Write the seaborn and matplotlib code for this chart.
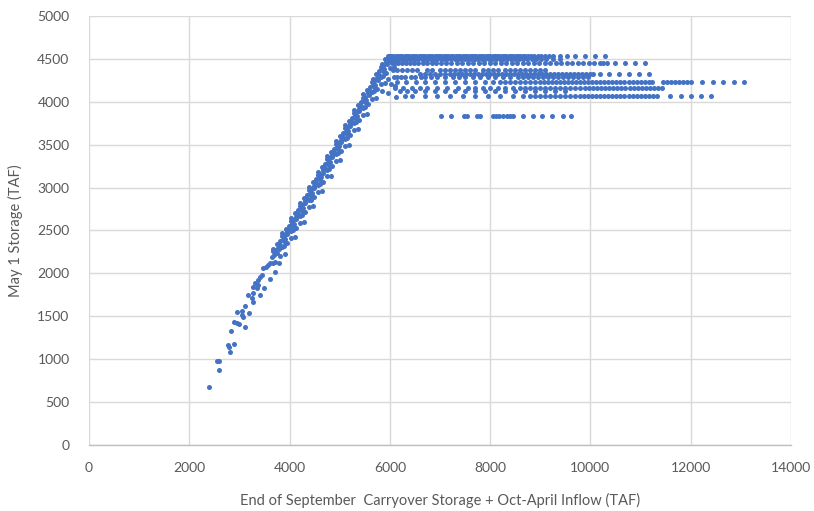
import matplotlib
matplotlib.use("Agg")
import matplotlib.pyplot as plt
import numpy as np
import pandas as pd
import seaborn as sns

# ---- data (TAF) ----
# sparse low-storage years
low_x = [2400, 2600, 2550, 2590, 2810, 2765, 2800, 2900, 2840, 2900, 2945, 2990,
         3110, 3050, 3080, 2960, 3050, 3110, 3200, 3180, 3265, 3280, 3260, 3410,
         3265, 3345, 3370, 3310, 3495, 3410, 3445, 3375, 3610, 3465, 3530, 3575,
         3610, 3665, 3710, 3710, 3790, 3650, 3700, 3750, 3800, 3910,
         5960, 6030, 6100, 5840, 5970, 6130]
low_y = [680, 870, 975, 975, 1080, 1165, 1145, 1180, 1325, 1430, 1420, 1410,
         1375, 1510, 1495, 1550, 1565, 1620, 1535, 1745, 1770, 1670, 1710, 1745,
         1845, 1825, 1865, 1885, 1825, 1960, 1980, 1925, 1930, 2060, 2080, 2100,
         2120, 2125, 2135, 2020, 2120, 2190, 2210, 2240, 2200, 2225,
         4270, 4210, 4180, 4120, 4100, 4060]

# rising limb, first set
rise1_x = [3680, 3780, 3760, 3880, 3745, 3900, 3870, 4030, 3850, 3955, 3940, 4060,
           3920, 4075, 4050, 4210, 4030, 4135, 4120, 4240, 4100, 4255, 4230, 4390,
           4210, 4315, 4300, 4420, 4280, 4435, 4410, 4570, 4390, 4495, 4480, 4600,
           4460, 4615, 4590, 4750, 4570, 4675, 4660, 4780, 4640, 4795, 4770, 4930,
           4750, 4855, 4840, 4960, 4820, 4975, 4950, 5110, 4930, 5035, 5020, 5140,
           5000, 5155, 5130, 5290, 5110, 5215, 5200, 5320, 5180, 5335, 5310, 5470,
           5290, 5395, 5380, 5500, 5360, 5515, 5490, 5650, 5470, 5575, 5560, 5680,
           5540, 5695, 5670, 5830, 5650, 5755, 5740, 5860, 5720, 5875, 5850, 6010,
           5830, 5935, 5920, 6040, 5900, 6050]
rise1_y = [2260, 2280, 2300, 2320, 2345, 2370, 2390, 2410, 2430, 2455, 2480, 2500,
           2520, 2545, 2570, 2590, 2610, 2635, 2660, 2680, 2700, 2725, 2750, 2770,
           2790, 2815, 2840, 2860, 2880, 2905, 2930, 2950, 2970, 2995, 3020, 3040,
           3060, 3085, 3110, 3130, 3150, 3175, 3200, 3220, 3240, 3265, 3290, 3310,
           3330, 3355, 3380, 3400, 3420, 3445, 3470, 3490, 3510, 3535, 3560, 3580,
           3600, 3625, 3650, 3670, 3690, 3715, 3740, 3760, 3780, 3805, 3830, 3850,
           3870, 3895, 3920, 3940, 3960, 3985, 4010, 4030, 4050, 4075, 4100, 4120,
           4140, 4165, 4190, 4210, 4230, 4255, 4280, 4300, 4320, 4345, 4370, 4390,
           4410, 4435, 4460, 4480, 4500, 4520]

# rising limb, second set
rise2_x = [3720, 3680, 3850, 3800, 3955, 3810, 3910, 4100, 3890, 3855, 4030, 3980,
           4130, 3985, 4090, 4280, 4070, 4035, 4210, 4160, 4310, 4165, 4270, 4460,
           4250, 4215, 4390, 4340, 4490, 4345, 4450, 4640, 4430, 4395, 4570, 4520,
           4670, 4525, 4630, 4820, 4610, 4575, 4750, 4700, 4850, 4705, 4810, 5000,
           4790, 4755, 4930, 4880, 5030, 4885, 4990, 5180, 4970, 4935, 5110, 5060,
           5210, 5065, 5170, 5360, 5150, 5115, 5290, 5240, 5390, 5245, 5350, 5540,
           5330, 5295, 5470, 5420, 5570, 5425, 5530, 5720, 5510, 5475, 5650, 5600,
           5750, 5605, 5710, 5900, 5690, 5655, 5830, 5780, 5930, 5785, 5890, 6080,
           5870, 5835, 6010, 5960, 6110, 5960]
rise2_y = [2270, 2290, 2310, 2330, 2355, 2380, 2400, 2420, 2440, 2465, 2490, 2510,
           2530, 2555, 2580, 2600, 2620, 2645, 2670, 2690, 2710, 2735, 2760, 2780,
           2800, 2825, 2850, 2870, 2890, 2915, 2940, 2960, 2980, 3005, 3030, 3050,
           3070, 3095, 3120, 3140, 3160, 3185, 3210, 3230, 3250, 3275, 3300, 3320,
           3340, 3365, 3390, 3410, 3430, 3455, 3480, 3500, 3520, 3545, 3570, 3590,
           3610, 3635, 3660, 3680, 3700, 3725, 3750, 3770, 3790, 3815, 3840, 3860,
           3880, 3905, 3930, 3950, 3970, 3995, 4020, 4040, 4060, 4085, 4110, 4130,
           4150, 4175, 4200, 4220, 4240, 4265, 4290, 4310, 4330, 4355, 4380, 4400,
           4420, 4445, 4470, 4490, 4510, 4530]

# flat-top years: May 1 storage level and the matching x values
level_4530 = [5980, 6030, 6070, 6120, 6160, 6210, 6250, 6300, 6350, 6390, 6440, 6480,
              6530, 6580, 6620, 6670, 6710, 6760, 6800, 6850, 6900, 6940, 6990, 7030,
              7080, 7130, 7170, 7220, 7260, 7310, 7360, 7400, 7450, 7490, 7540, 7590,
              7630, 7680, 7720, 7770, 7820, 7860, 7910, 7950, 8000, 8050, 8090, 8140,
              8180, 8230, 8280, 8320, 8370, 8410, 8460, 8510, 8550, 8600, 8650, 8700,
              8760, 8820, 8880, 8950, 9020, 9090, 9170, 9250, 9390, 9530, 9690, 9890,
              10090, 10290]
level_4495 = [6010, 6060, 6110, 6170, 6230, 6280, 6340, 6400, 6460, 6510, 6570, 6640,
              6700, 6760, 6830, 6890, 6950, 7020, 7090, 7150, 7220, 7290, 7350, 7420,
              7490, 7560, 7620, 7690, 7760, 7830, 7900, 7970, 8040, 8110, 8190, 8260,
              8330, 8410, 8490, 8570, 8650, 8740, 8830, 8920, 9010, 9120, 9250, 9400]
level_4455 = [6040, 6100, 6170, 6240, 6320, 6400, 6480, 6570, 6660, 6750, 6840, 6930,
              7030, 7130, 7230, 7330, 7440, 7550, 7660, 7770, 7880, 7990, 8100, 8210,
              8320, 8430, 8540, 8650, 8760, 8870, 8980, 9090, 9200, 9310, 9420, 9530,
              9640, 9750, 9860, 9970, 10080, 10190, 10250, 10330, 10490, 10690, 10890,
              11090]
level_4370 = [6060, 6140, 6240, 6340, 6440, 6540, 6740, 6840, 7000, 7100, 7200, 7300,
              7400, 7500, 7600, 7700, 7850, 7950, 8050, 8150, 8300, 8400, 8500, 8600,
              8700, 8800, 8900, 9000, 9100]
level_4325 = [6600, 6700, 6800, 6900, 7000, 7100, 7200, 7280, 7360, 7440, 7520, 7600,
              7680, 7760, 7840, 7920, 8000, 8080, 8160, 8240, 8320, 8400, 8480, 8560,
              8640, 8720, 8800, 8880, 8960, 9040, 9120, 9200, 9280, 9360, 9440, 9520,
              9600, 9680, 9760, 9840, 9920, 10000, 10060, 10190, 10370, 10570, 10770,
              10970, 11170]
level_4285 = [6080, 6150, 6230, 6300, 6420, 6500, 6620, 6700, 6820, 6950, 7100, 7250,
              7380, 7500, 7650, 7800, 7950, 8100, 8250, 8400, 8550, 8650, 8750, 8850,
              8950, 9050, 9150, 9250, 9350, 9450, 9550, 9650, 9750, 9850, 9950]
level_4230 = [6150, 6330, 6520, 6700, 6900, 7100, 7300, 7500, 7700, 7900, 8050, 8200,
              8300, 8400, 8500, 8600, 8700, 8800, 8900, 9000, 9080, 9160, 9240, 9320,
              9400, 9480, 9560, 9640, 9720, 9800, 9880, 9960, 10040, 10120, 10200,
              10280, 10360, 10440, 10520, 10600, 10680, 10760, 10840, 10920, 11000,
              11080, 11160, 11220, 11450, 11520, 11600, 11680, 11760, 11840, 11920,
              12010, 12220, 12450, 12650, 12860, 13060]
level_4165 = [6110, 6260, 6450, 6600, 6750, 6950, 7150, 7350, 7550, 7700, 7850, 8000,
              8150, 8300, 8450, 8600, 8700, 8800, 8900, 9000, 9100, 9200, 9300, 9400,
              9500, 9600, 9700, 9800, 9900, 9980, 10060, 10140, 10220, 10300, 10380,
              10460, 10540, 10620, 10700, 10780, 10860, 10940, 11020, 11100, 11180,
              11260, 11340, 11420]
level_4120 = [6200, 6350, 6500, 6700, 6900, 7100, 7300, 7500, 7700, 7900, 8100, 8300,
              8500, 8700, 8900, 9100, 9300, 9500]
level_4070 = [6300, 6450, 6700, 6950, 7200, 7450, 7700, 7950, 8200, 8450, 8650, 8800,
              8900, 9000, 9100, 9200, 9300, 9400, 9500, 9600, 9700, 9800, 9880, 9960,
              10040, 10120, 10200, 10280, 10360, 10440, 10520, 10600, 10680, 10760,
              10840, 10920, 11000, 11080, 11160, 11240, 11320, 11580, 11800, 12000,
              12200, 12400]
level_3830 = [7020, 7230, 7470, 7540, 7730, 7800, 8050, 8120, 8180, 8250, 8330, 8400,
              8460, 8660, 8860, 9030, 9230, 9450, 9620]

levels = {4530: level_4530, 4495: level_4495, 4455: level_4455, 4370: level_4370,
          4325: level_4325, 4285: level_4285, 4230: level_4230, 4165: level_4165,
          4120: level_4120, 4070: level_4070, 3830: level_3830}

x_ticks = [0, 2000, 4000, 6000, 8000, 10000, 12000, 14000]
y_ticks = [0, 500, 1000, 1500, 2000, 2500, 3000, 3500, 4000, 4500, 5000]
x_label = "End of September  Carryover Storage + Oct-April Inflow (TAF)"
y_label = "May 1 Storage (TAF)"

# ---- assemble a long table ----
xs = low_x + rise1_x + rise2_x
ys = low_y + rise1_y + rise2_y
for level, vals in levels.items():
    xs += vals
    ys += [level] * len(vals)
df = pd.DataFrame({"inflow": xs, "storage": ys})

# ---- plot ----
sns.set_theme(style="white")
plt.rcParams["font.family"] = ["Lato", "DejaVu Sans"]

fig = plt.figure(figsize=(8.14, 5.11), dpi=100)
ax = fig.add_axes([0.1093, 0.1292, 0.8624, 0.8395])

sns.scatterplot(data=df, x="inflow", y="storage", ax=ax, color="#4472C4",
                s=13, linewidth=0, edgecolor=None, zorder=3)

ax.set_xlim(0, 14000)
ax.set_ylim(0, 5000)
ax.set_xticks(x_ticks)
ax.set_yticks(y_ticks)
ax.grid(True, color="#d9d9d9", linewidth=1.0)
ax.set_axisbelow(True)
for side in ["top", "right", "left"]:
    ax.spines[side].set_visible(False)
ax.spines["bottom"].set_color("#bfbfbf")
ax.spines["bottom"].set_linewidth(1.0)
ax.tick_params(axis="both", length=0, labelsize=10, labelcolor="#595959")
ax.tick_params(axis="x", pad=12)
ax.tick_params(axis="y", pad=14)

ax.set_xlabel(x_label, fontsize=10.5, color="#595959", labelpad=14)
ax.set_ylabel(y_label, fontsize=10.5, color="#595959", labelpad=10)

fig.savefig("out.png", dpi=100, facecolor="white")
